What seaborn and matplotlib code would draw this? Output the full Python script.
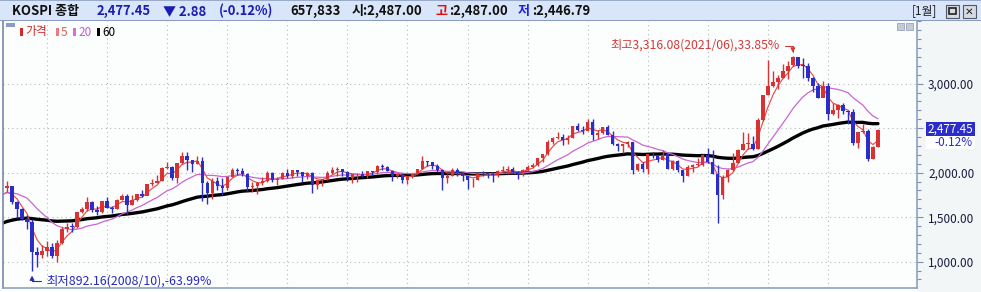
import matplotlib
matplotlib.use('Agg')

import numpy as np
import pandas as pd
import matplotlib.pyplot as plt
from matplotlib.patches import Rectangle
from matplotlib.ticker import FixedLocator, MultipleLocator
import seaborn as sns

sns.set_style('white')
plt.rcParams['font.family'] = ['Noto Sans CJK KR', 'DejaVu Sans']
plt.rcParams['axes.unicode_minus'] = False

# KOSPI 월봉 2008/05 ~ 2022/11
months = pd.period_range('2008-05', '2022-11', freq='M')

opens = [
    1825, 1852, 1674, 1594, 1474, 1448, 1113, 1076,
    1124, 1162, 1063, 1206, 1369, 1395, 1390, 1557, 1591, 1673, 1580, 1555,
    1682, 1602, 1594, 1692, 1741, 1641, 1698, 1759, 1742, 1873, 1882, 1905,
    2051, 2069, 1939, 2106, 2192, 2142, 2101, 2133, 1880, 1769, 1909, 1847,
    1826, 1955, 2030, 2014, 1982, 1843, 1854, 1881, 1905, 1996, 1912, 1933,
    1997, 1962, 2027, 2005, 1964, 2001, 1863, 1914, 1926, 1997, 2030, 2044,
    2011, 1941, 1980, 1986, 1962, 2017, 2002, 2076, 2068, 2020, 1964, 1981,
    1916, 1949, 1985, 2041, 2127, 2115, 2074, 2030, 1941, 1963, 2029, 1991,
    1961, 1912, 1917, 1996, 1994, 1983, 1970, 2016, 2034, 2043, 2008, 1983,
    2026, 2067, 2091, 2160, 2205, 2347, 2392, 2402, 2363, 2394, 2523, 2476,
    2467, 2566, 2427, 2445, 2515, 2423, 2326, 2295, 2322, 2343, 2029, 2096,
    2041, 2204, 2195, 2140, 2204, 2041, 2130, 2025, 1967, 2063, 2083, 2087,
    2197, 2119, 1987, 1754, 1947, 2030, 2108, 2249, 2326, 2327, 2267, 2591,
    2873, 2976, 3013, 3061, 3147, 3204, 3296, 3202, 3199, 3068, 2970, 2839,
    2977, 2663, 2699, 2757, 2695, 2685, 2332, 2452, 2472, 2155, 2293,
]
highs = [
    1901, 1855, 1679, 1600, 1525, 1478, 1161, 1192,
    1228, 1213, 1238, 1384, 1434, 1435, 1560, 1612, 1723, 1685, 1622, 1687,
    1723, 1620, 1705, 1757, 1755, 1744, 1765, 1804, 1874, 1924, 1974, 2063,
    2116, 2078, 2106, 2231, 2229, 2142, 2188, 2172, 1910, 1942, 1952, 1943,
    1962, 2050, 2057, 2049, 1993, 1900, 1900, 1953, 2021, 2004, 1950, 2008,
    2042, 2034, 2035, 2009, 2010, 2008, 1920, 1933, 2015, 2063, 2059, 2046,
    2014, 1983, 1992, 2015, 2019, 2020, 2082, 2093, 2080, 2035, 1993, 2000,
    1963, 1987, 2045, 2189, 2134, 2120, 2098, 2041, 1980, 2053, 2047, 1995,
    1966, 1945, 2000, 2023, 1999, 2011, 2027, 2073, 2074, 2068, 2018, 2044,
    2091, 2107, 2167, 2208, 2371, 2402, 2453, 2429, 2425, 2524, 2561, 2527,
    2607, 2599, 2479, 2516, 2530, 2465, 2335, 2324, 2358, 2343, 2106, 2116,
    2206, 2231, 2204, 2252, 2205, 2137, 2138, 2030, 2083, 2098, 2163, 2205,
    2277, 2258, 2089, 1972, 2039, 2218, 2269, 2458, 2441, 2414, 2618, 2878,
    3266, 3146, 3095, 3223, 3250, 3316.08, 3305, 3290, 3234, 3075, 3011, 3033,
    3010, 2780, 2770, 2787, 2702, 2713, 2462, 2546, 2485, 2304, 2490,
]
lows = [
    1787, 1653, 1488, 1464, 1366, 892.16, 939, 1036,
    1060, 1040, 992, 1196, 1337, 1338, 1374, 1542, 1570, 1560, 1524, 1550,
    1600, 1552, 1594, 1691, 1532, 1640, 1680, 1730, 1744, 1851, 1880, 1903,
    2041, 1917, 1882, 2097, 2035, 2012, 2100, 1684, 1644, 1705, 1800, 1750,
    1800, 1950, 1979, 1960, 1790, 1780, 1758, 1863, 1899, 1900, 1860, 1925,
    1938, 1938, 1960, 1899, 1933, 1770, 1813, 1850, 1915, 1980, 1965, 1960,
    1910, 1886, 1900, 1955, 1944, 1975, 1990, 2032, 2019, 1902, 1936, 1880,
    1876, 1936, 1980, 2041, 2077, 2040, 2010, 1800, 1885, 1960, 1960, 1907,
    1817, 1835, 1912, 1968, 1939, 1892, 1950, 2005, 1986, 1996, 1931, 1963,
    2024, 2057, 2070, 2121, 2204, 2321, 2381, 2310, 2319, 2394, 2470, 2436,
    2467, 2364, 2376, 2433, 2418, 2309, 2241, 2218, 2290, 1985, 2015, 2003,
    1984, 2170, 2123, 2140, 2039, 2034, 2011, 1891, 1960, 2010, 2079, 2078,
    2112, 1980, 1439, 1708, 1890, 2018, 2108, 2249, 2268, 2260, 2267, 2579,
    2869, 2957, 2941, 3060, 3056, 3203, 3180, 3060, 3027, 2901, 2839, 2855,
    2591, 2652, 2609, 2656, 2546, 2314, 2276, 2445, 2134, 2155, 2293,
]
closes = [
    1852, 1674, 1594, 1474, 1448, 1113, 1076, 1124,
    1162, 1063, 1206, 1369, 1395, 1390, 1557, 1591, 1673, 1580, 1555, 1682,
    1602, 1594, 1692, 1741, 1641, 1698, 1759, 1742, 1873, 1882, 1905, 2051,
    2069, 1939, 2106, 2192, 2142, 2101, 2133, 1880, 1769, 1909, 1847, 1826,
    1955, 2030, 2014, 1982, 1843, 1854, 1881, 1905, 1996, 1912, 1933, 1997,
    1962, 2027, 2005, 1964, 2001, 1863, 1914, 1926, 1997, 2030, 2044, 2011,
    1941, 1980, 1986, 1962, 2017, 2002, 2076, 2068, 2020, 1964, 1981, 1916,
    1949, 1985, 2041, 2127, 2115, 2074, 2030, 1941, 1963, 2029, 1991, 1961,
    1912, 1917, 1996, 1994, 1983, 1970, 2016, 2034, 2043, 2008, 1983, 2026,
    2067, 2091, 2160, 2205, 2347, 2392, 2402, 2363, 2394, 2523, 2476, 2467,
    2566, 2427, 2445, 2515, 2423, 2326, 2295, 2322, 2343, 2029, 2096, 2041,
    2204, 2195, 2140, 2204, 2041, 2130, 2025, 1967, 2063, 2083, 2087, 2197,
    2119, 1987, 1754, 1947, 2030, 2108, 2249, 2326, 2327, 2267, 2591, 2873,
    2976, 3013, 3061, 3147, 3204, 3296, 3202, 3199, 3068, 2970, 2839, 2977,
    2663, 2699, 2757, 2695, 2685, 2332, 2452, 2472, 2155, 2293, 2477.45,
]
# 이동평균 계산용 이전 종가 (2001/01 ~ 2008/04, 화면 밖)
prior_closes = [
    615, 577, 523, 560, 595, 595, 541, 545, 479, 537, 628, 693,
    722, 823, 893, 843, 796, 742, 714, 717, 646, 669, 725, 627,
    591, 575, 535, 599, 634, 670, 709, 759, 697, 782, 782, 810,
    848, 880, 880, 862, 803, 785, 735, 807, 835, 845, 869, 896,
    932, 1011, 965, 911, 970, 1008, 1111, 1083, 1221, 1159, 1297, 1379,
    1399, 1371, 1359, 1419, 1317, 1295, 1297, 1352, 1371, 1364, 1432, 1434,
    1360, 1417, 1452, 1542, 1700, 1743, 1933, 1873, 1946, 2064, 1906, 1897,
    1624, 1711, 1704, 1825,
]
ma_periods = [5, 20, 60]
ma_colors = ['#e44e4e', '#c866d4', '#000000']
ma_widths = [0.85, 0.9, 2.4]

y_ticks = [1000, 1500, 2000, 2500, 3000]
y_tick_labels = ['1,000.00', '1,500.00', '2,000.00', '', '3,000.00']

header_items = [
    (12, 'KOSPI 종합', '#101010'),
    (97, '2,477.45', '#1c1cb4'),
    (163, '▼ 2.88', '#1c1cb4'),
    (219, '(-0.12%)', '#1c1cb4'),
    (290, '657,833', '#101010'),
    (352, '시:2,487.00', '#101010'),
    (435, '고', '#e01010'),
    (449, ':2,487.00', '#101010'),
    (518, '저', '#2020e0'),
    (532, ':2,446.79', '#101010'),
]

W, H = 981, 292
UP, DOWN = '#d83232', '#2c2cc8'

o = np.array(opens, dtype=float)
h = np.array(highs, dtype=float)
l = np.array(lows, dtype=float)
c = np.array(closes, dtype=float)
idx = np.arange(len(months))

all_close = pd.Series(prior_closes + closes, dtype=float)
all_idx = np.arange(-len(prior_closes), len(closes))

fig = plt.figure(figsize=(W / 100, H / 100), dpi=100, facecolor='#fcfdfd')


def box(x0, y0, x1, y1, **kw):
    fig.add_artist(Rectangle((x0 / W, 1 - y1 / H), (x1 - x0) / W, (y1 - y0) / H,
                             transform=fig.transFigure, **kw))


def label(x, y, s, **kw):
    fig.text(x / W, 1 - y / H, s, va='center', **kw)


def wma(series, n):
    w = np.arange(1, n + 1, dtype=float)
    return series.rolling(n).apply(lambda v: np.dot(v, w) / w.sum(), raw=True)


# 오른쪽 가격축 패널 배경
box(917, 21, 981, 292, fc='#f2f6f6', ec='none', zorder=0)

ax = fig.add_axes([3 / W, 1 - 288 / H, 914 / W, 267 / H])
ax.set_facecolor('#fcfefe')

# 이동평균선 (가중이동평균)
for n, col, lw in zip(ma_periods, ma_colors, ma_widths):
    ma = wma(all_close, n)
    sns.lineplot(x=all_idx, y=ma.values, ax=ax, color=col, lw=lw, zorder=2 if n == 60 else 4)

# 캔들
up = c >= o
colors = np.where(up, UP, DOWN)
ax.vlines(idx, l, h, colors=colors, lw=1.0, zorder=5)
body_lo = np.minimum(o, c)
body_h = np.maximum(np.abs(c - o), 9)
ax.bar(idx, body_h, bottom=body_lo, width=0.68, color=colors, lw=0, zorder=6)

ax.set_xlim(-0.8, 181.8)
ax.set_ylim(704, 3704)

jan_idx = [i for i, m in enumerate(months) if m.month == 1]
ax.set_xticks(jan_idx)
ax.set_xticklabels([])
ax.tick_params(axis='x', length=0)
ax.set_xlabel('')
ax.set_ylabel('')

ax.yaxis.tick_right()
ax.yaxis.set_major_locator(FixedLocator(y_ticks))
ax.set_yticklabels(y_tick_labels)
ax.yaxis.set_minor_locator(MultipleLocator(100))
ax.tick_params(axis='y', which='major', length=4, width=0.8, color='#8090b0',
               labelsize=8.5, labelcolor='#1a1a40', pad=4)
ax.tick_params(axis='y', which='minor', length=3, width=0.8, color='#8090b0')
ax.grid(True, which='major', ls=(0, (1, 3)), color='#b8b8b8', lw=0.8)

ax.spines['top'].set_visible(False)
ax.spines['right'].set_color('#8ea0c0')
ax.spines['bottom'].set_color('#8ea0c0')
ax.spines['left'].set_color('#7a88a8')
for s in ['right', 'bottom', 'left']:
    ax.spines[s].set_linewidth(1.2)

# 최고/최저 표시
i_hi = int(np.argmax(h))
i_lo = int(np.argmin(l))
ax.annotate('최고3,316.08(2021/06),33.85%', xy=(i_hi, h[i_hi]), xytext=(-13, 10),
            textcoords='offset pixels', ha='right', va='center', fontsize=8.8, color='#d43a3a',
            arrowprops=dict(arrowstyle='-|>,head_length=0.3,head_width=0.15', color='#d43a3a', lw=0.8,
                            connectionstyle='angle,angleA=0,angleB=90,rad=0',
                            relpos=(1, 0.5), shrinkA=1, shrinkB=2), zorder=8)
ax.annotate('최저892.16(2008/10),-63.99%', xy=(i_lo, l[i_lo]), xytext=(14, -10),
            textcoords='offset pixels', ha='left', va='center', fontsize=8.9, color='#2a2ab8',
            arrowprops=dict(arrowstyle='-|>,head_length=0.3,head_width=0.15', color='#2a2ab8', lw=0.8,
                            connectionstyle='angle,angleA=0,angleB=90,rad=0',
                            relpos=(0, 0.5), shrinkA=1, shrinkB=3), zorder=8)

# 현재가 라벨 (오른쪽 축 패널)
last_y = H - ax.transData.transform((0, c[-1]))[1]
box(926, last_y - 8, 975, last_y + 5.5, fc='#2c2cc8', ec='none', zorder=10)
box(926, last_y + 5.5, 975, last_y + 19, fc='white', ec='none', zorder=10)
label(950.5, last_y - 1.5, '2,477.45', fontsize=8.5, color='white', ha='center', zorder=11)
label(973, last_y + 12, '-0.12%', fontsize=8.5, color='#2c2cc8', ha='right', zorder=11)

# 범례
box(6, 23, 15, 27, fc='#8c9cc4', ec='none')
legend_items = [(20, '가격', '#d42828', '#d42828'), (56, '5', '#f07878', '#e05a5a'),
                (73, '20', '#d070d8', '#c060c8'), (97, '60', '#000000', '#000000')]
for x, s, mc, tc in legend_items:
    box(x, 28, x + 2.5, 36, fc=mc, ec='none')
    label(x + 5, 32, s, fontsize=8.5, color=tc)

# 작은 창 버튼
box(897, 23, 904, 30, fc='#c4cad6', ec='#9aa4b8', lw=0.6)
box(906, 23, 913, 30, fc='#c4cad6', ec='#9aa4b8', lw=0.6)

# 헤더
box(0, 0, 981, 20.5, fc='#d9e5f9', ec='none')
box(0, 20, 981, 21.2, fc='#8a9cc2', ec='none')
box(0, 0, 981, 1, fc='#9aaacc', ec='none')
for x, s, col in header_items:
    label(x, 11, s, fontsize=9.4, color=col, fontweight='bold')
label(912, 11, '[1월]', fontsize=8.5, color='#202020')
box(946, 5, 959, 18, fc='#d6dae2', ec='#505868', lw=0.8)
box(949, 8, 956, 14, fc='none', ec='#202020', lw=1.2)
box(963, 5, 976, 18, fc='#d6dae2', ec='#505868', lw=0.8)
label(969.5, 11.5, '✕', fontsize=7.5, color='#202020', ha='center', fontweight='bold',
      family=['DejaVu Sans'])

fig.savefig('out.png', dpi=100, facecolor=fig.get_facecolor())
